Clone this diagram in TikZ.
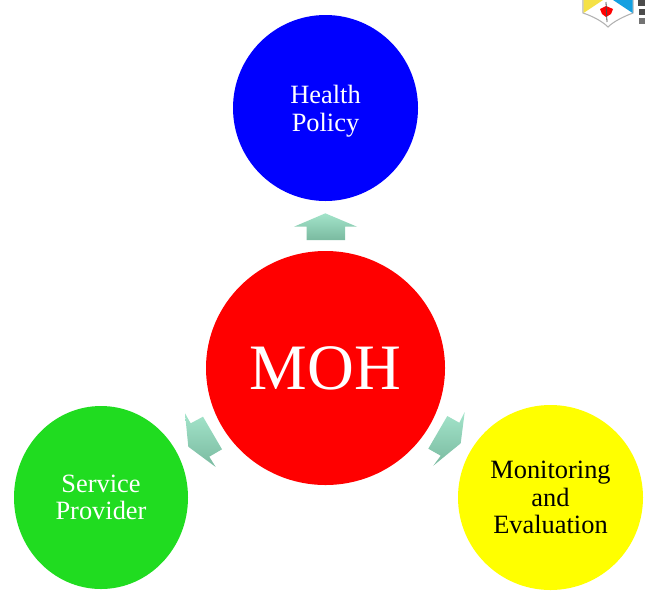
\documentclass[tikz,border=0pt]{standalone}
\usepackage{fontspec}
\setmainfont{Liberation Serif}
\usepackage{xcolor}
\usetikzlibrary{shapes.geometric}
\definecolor{chartblue}{RGB}{0, 0, 255}
\definecolor{chartred}{RGB}{255, 0, 0}
\definecolor{chartgreen}{RGB}{32, 220, 32}
\definecolor{chartyellow}{RGB}{255, 255, 0}
\definecolor{arrowtop}{RGB}{163, 228, 202}
\definecolor{arrowbottom}{RGB}{122, 186, 160}
\definecolor{crestblue}{RGB}{20, 160, 225}
\definecolor{crestyellow}{RGB}{245, 225, 70}
\tikzset{
  topic/.style={shape=ellipse, inner sep=0pt, align=center, text=white,
    font=\fontsize{19.8}{20.8}\selectfont},
  growarrow/.style={top color=arrowtop, bottom color=arrowbottom, draw=none},
}

\begin{document}
\begin{tikzpicture}[x=0.75pt, y=-0.75pt]
\useasboundingbox (0,0) rectangle (645,593);
% circles
\node[topic, fill=chartblue, minimum width=138.75pt, minimum height=139.5pt] (policy) at (325.5,108) {};
\node[topic] (policylabel) at (325.5,111) {Health\\Policy};
\node[topic, fill=chartred, minimum width=179.25pt, minimum height=175.5pt, font=\fontsize{48.6}{50}\selectfont] (moh) at (325.5,368) {MOH};
\node[topic, fill=chartgreen, minimum width=130.5pt, minimum height=137.25pt] (provider) at (101,497.5) {Service\\Provider};
\node[topic, fill=chartyellow, text=black, minimum width=138.75pt, minimum height=138.75pt] (monitoring) at (550.5,497.5) {Monitoring\\and\\Evaluation};
% block arrows
\shade[growarrow] (325.3,213.3) -- (357,226.7) -- (345,226.7) -- (345,240) -- (306.7,240) -- (306.7,226.7) -- (294,226.7) -- cycle;
\shade[growarrow] (185,413.3) -- (190.7,423.3) -- (203,416.7) -- (222,449.3) -- (209.3,456.7) -- (215.7,467) -- (188.3,446.7) -- cycle;
\shade[growarrow] (464.7,412) -- (459.3,422.7) -- (447.3,416) -- (428.3,448.7) -- (440.7,455.7) -- (433.3,465.7) -- (460.7,443.3) -- cycle;
% crest, cut off by the page
\begin{scope}
\clip (0,0) rectangle (645,593);
\fill[white, draw=gray!60, line width=0.8pt] (583,-2) -- (583,13) .. controls (592,16) and (602,21) .. (608,27) .. controls (614,21) and (625,16) .. (633,13) -- (633,-2) -- cycle;
\fill[crestyellow] (583.5,-2) -- (583.5,13) -- (603,0) -- (603,-2) -- cycle;
\fill[crestblue] (632.5,-2) -- (632.5,13) -- (613,0) -- (613,-2) -- cycle;
\fill[chartred] (600,9) -- (606,6) -- (613,9) -- (611,14) -- (606,17) -- (602,14) -- cycle;
\draw[black!70, line width=0.6pt] (606,2) -- (607,22);
\fill[black!70] (638,0) rectangle (645,6);
\fill[black!70] (639,9) rectangle (645,15);
\fill[black!55] (639,18) rectangle (645,24);
\end{scope}
\end{tikzpicture}
\end{document}
